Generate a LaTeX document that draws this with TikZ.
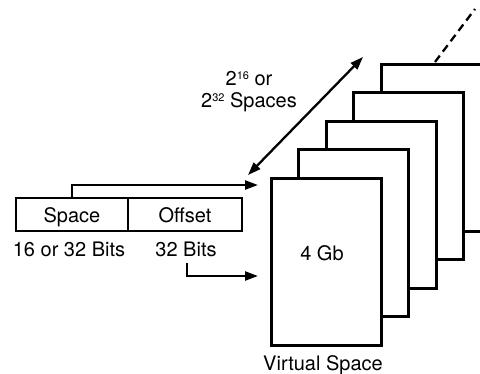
\documentclass[tikz,border=0pt]{standalone}
\usepackage{fontspec}
\setmainfont{TeX Gyre Heros}
\usetikzlibrary{arrows.meta}
\begin{document}
\begin{tikzpicture}[x=1pt,y=-1pt,
  page/.style={draw, fill=white, line width=3pt, minimum width=110pt, minimum height=167pt, inner sep=0pt},
  field/.style={draw, fill=white, line width=2.8pt, minimum height=33pt, inner sep=0pt},
  txt/.style={inner sep=0pt, anchor=base, font=\fontsize{20}{24}\selectfont},
  arr/.style={line width=2.3pt, -{Triangle[length=13pt,width=9pt]}},
  darr/.style={line width=2.3pt, {Triangle[length=13pt,width=9pt]}-{Triangle[length=13pt,width=9pt]}}]
\useasboundingbox (0,0) rectangle (480,373);
\clip (0,0) rectangle (480,373);
% stacked virtual spaces, back to front
\node[page] (r5) at (436,147.5) {};
\node[page] (r4) at (408.5,176) {};
\node[page] (r3) at (381,204.5) {};
\node[page] (r2) at (353.5,233) {};
\node[page] (r1) at (326,261.5) {};
\node[txt] (gb) at (322,260) {4 Gb};
\node[txt] (vs) at (323,370) {Virtual Space};
% dashed continuation
\coordinate (d1) at (435,62);
\coordinate (d2) at (475,9);
\draw[line width=2.3pt, dash pattern=on 8pt off 5pt] (d1) -- (d2);
% address fields
\node[field, minimum width=112pt] (space) at (72,214.5) {};
\node[field, minimum width=114pt] (offset) at (185,214.5) {};
\node[txt] (spt) at (72,222) {Space};
\node[txt] (oft) at (185,222) {Offset};
\node[txt] (b1) at (69,256) {16 or 32 Bits};
\node[txt] (b2) at (186,256) {32 Bits};
% count label
\newcommand{\supnum}[1]{{\fontsize{11}{11}\selectfont\raisebox{6pt}{#1}}}
\node[txt] (l1) at (249,85) {2\supnum{16} or};
\node[txt] (l2) at (249,107) {2\supnum{32} Spaces};
% arrows
\coordinate (s2) at (187,263);
\coordinate (t1) at (258,185);
\coordinate (t2) at (258,276);
\coordinate (a1) at (248,175);
\coordinate (a2) at (363,57);
\draw[arr] (space.north) |- (t1);
\draw[arr] (s2) |- (t2);
\draw[darr] (a1) -- (a2);
\end{tikzpicture}
\end{document}
